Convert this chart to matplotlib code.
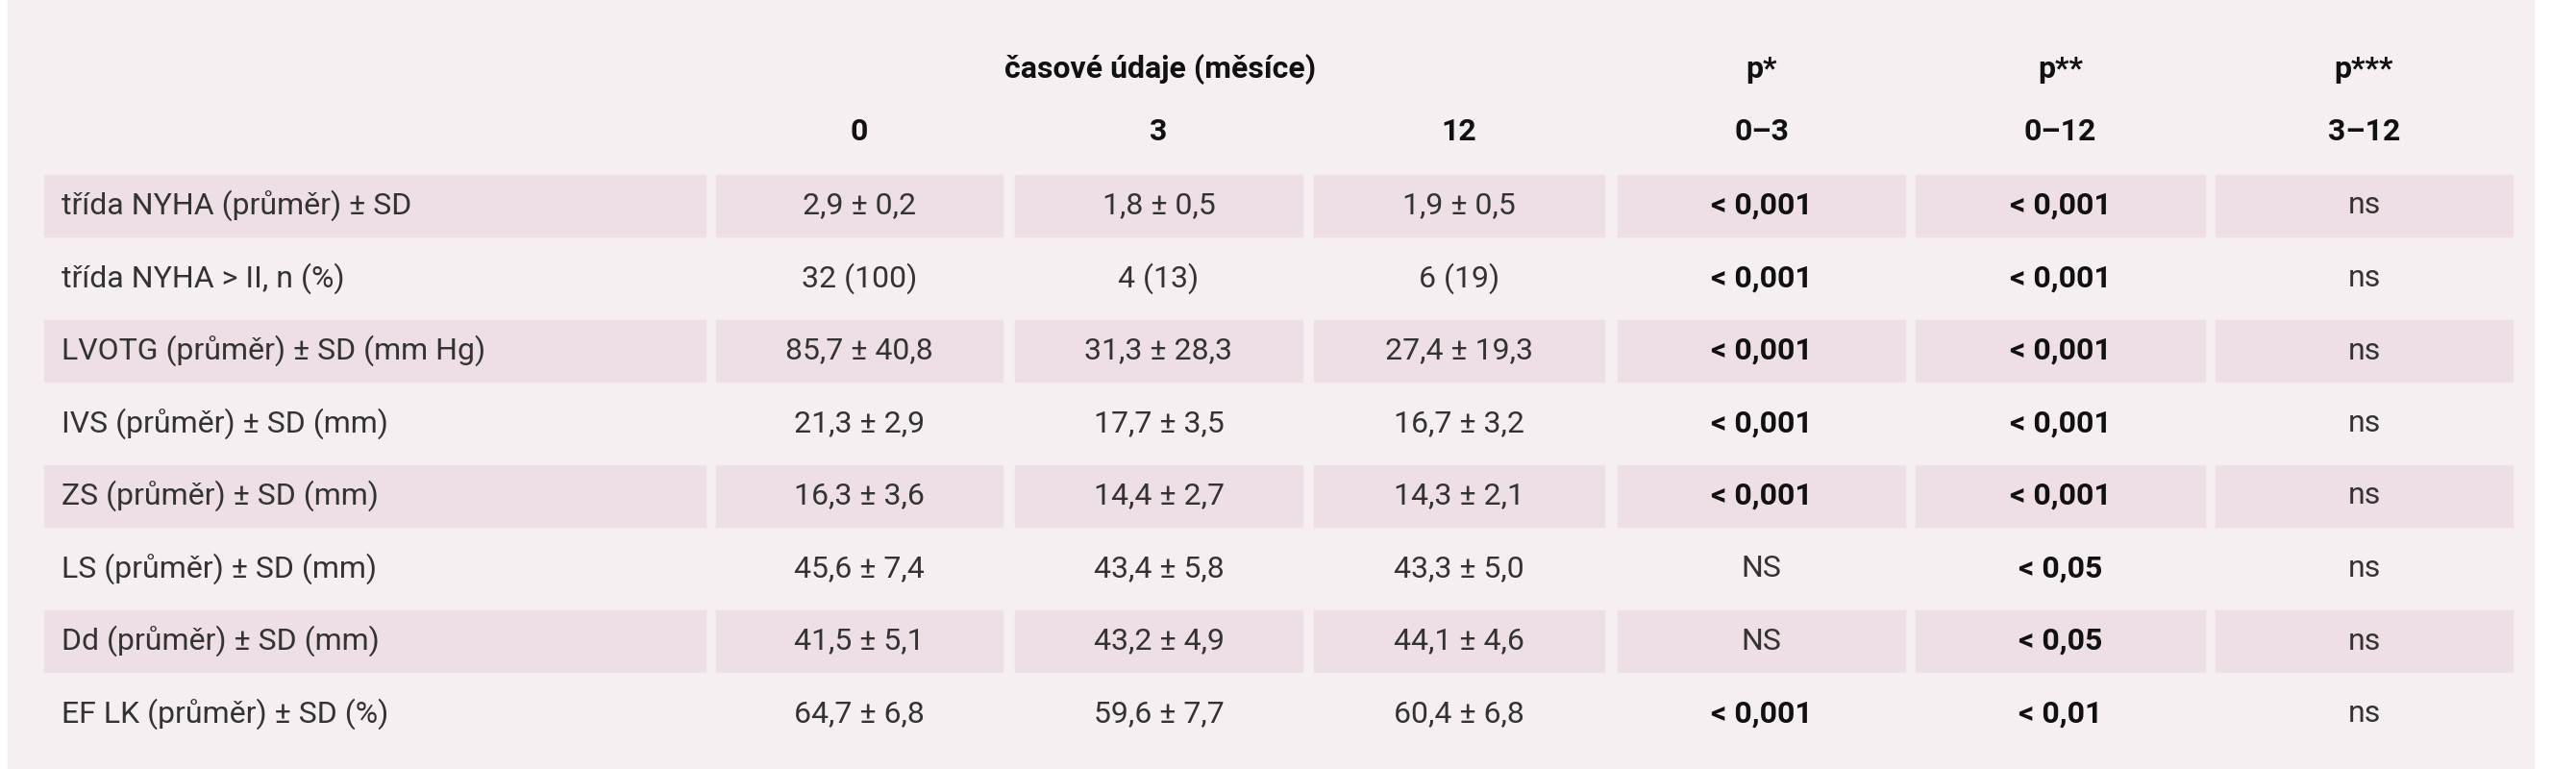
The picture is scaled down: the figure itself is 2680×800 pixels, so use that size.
import matplotlib
matplotlib.use("Agg")
import matplotlib.pyplot as plt
from matplotlib.patches import Rectangle

row_labels = ["třída NYHA (průměr) ± SD", "třída NYHA > II, n (%)", "LVOTG (průměr) ± SD (mm Hg)",
              "IVS (průměr) ± SD (mm)", "ZS (průměr) ± SD (mm)", "LS (průměr) ± SD (mm)",
              "Dd (průměr) ± SD (mm)", "EF LK (průměr) ± SD (%)"]
col_m0 = ["2,9 ± 0,2", "32 (100)", "85,7 ± 40,8", "21,3 ± 2,9", "16,3 ± 3,6", "45,6 ± 7,4", "41,5 ± 5,1", "64,7 ± 6,8"]
col_m3 = ["1,8 ± 0,5", "4 (13)", "31,3 ± 28,3", "17,7 ± 3,5", "14,4 ± 2,7", "43,4 ± 5,8", "43,2 ± 4,9", "59,6 ± 7,7"]
col_m12 = ["1,9 ± 0,5", "6 (19)", "27,4 ± 19,3", "16,7 ± 3,2", "14,3 ± 2,1", "43,3 ± 5,0", "44,1 ± 4,6", "60,4 ± 6,8"]
p_03 = ["< 0,001"] * 5 + ["NS", "NS", "< 0,001"]
p_012 = ["< 0,001"] * 5 + ["< 0,05", "< 0,05", "< 0,01"]
p_312 = ["ns"] * 8
head_top = ["p*", "p**", "p***"]
head_sub = ["0", "3", "12", "0–3", "0–12", "3–12"]
group_title = "časové údaje (měsíce)"

FONT = ["Roboto", "DejaVu Sans"]
BG = "#f6eff2"; SH = "#eddfe5"; TXT = "#333333"

fig = plt.figure(figsize=(26.8, 8), dpi=100)
fig.patch.set_facecolor("white")
ax = fig.add_axes([0, 0, 1, 1])
ax.set_xlim(0, 2680); ax.set_ylim(800, 0); ax.axis("off")
ax.add_patch(Rectangle((8, 0), 2628, 800, color=BG, zorder=0))

cols = [(46, 734), (745, 1043), (1056, 1355), (1367, 1669), (1683, 1982), (1993, 2294), (2305, 2614)]
y0, pitch, h = 214, 75.5, 64
data_cols = [col_m0, col_m3, col_m12, p_03, p_012, p_312]
fs = 23

for i, lab in enumerate(row_labels):
    yc = y0 + i * pitch
    if i % 2 == 0:
        for (a, b) in cols:
            ax.add_patch(Rectangle((a, yc - h / 2), b - a, h, color=SH, zorder=1))
    ax.text(64, yc, lab, fontsize=fs, family=FONT, color=TXT, va="center", ha="left", zorder=2)
    for j, col in enumerate(data_cols):
        a, b = cols[j + 1]
        v = col[i]
        bold = j in (3, 4) and v.startswith("<")
        ax.text((a + b) / 2, yc, v, fontsize=fs, family=FONT, color="#111111" if bold else TXT,
                fontweight="bold" if bold else "normal", va="center", ha="center", zorder=2)

ax.text((cols[1][0] + cols[3][1]) / 2, 72, group_title, fontsize=fs, family=FONT, fontweight="bold",
        color="#111111", va="center", ha="center")
for j, t in enumerate(head_top):
    a, b = cols[j + 4]
    ax.text((a + b) / 2, 72, t, fontsize=fs, family=FONT, fontweight="bold", color="#111111", va="center", ha="center")
for j, t in enumerate(head_sub):
    a, b = cols[j + 1]
    ax.text((a + b) / 2, 137, t, fontsize=fs, family=FONT, fontweight="bold", color="#111111", va="center", ha="center")

fig.savefig("out.png", dpi=100, facecolor="white")
